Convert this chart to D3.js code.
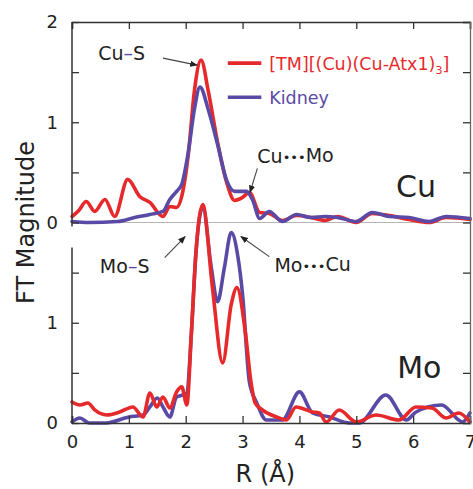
<!DOCTYPE html>
<html>
<head>
<meta charset="utf-8">
<script src="https://cdn.jsdelivr.net/npm/d3@7"></script>
<style>
  body { margin: 0; background: #fff; }
  svg text { font-family: "DejaVu Sans", sans-serif; fill: #222; }
</style>
</head>
<body>
<div id="chart"></div>
<script>
// Cu K-edge FT magnitude (upper panel, offset by 2 on the shared axis)
var cuTmR = [0, 0.12, 0.25, 0.4, 0.58, 0.75, 0.98, 1.19, 1.37, 1.6, 1.72, 1.84, 1.93, 2.05, 2.15, 2.27, 2.4, 2.56, 2.72, 2.86, 3.0, 3.12, 3.3, 3.47, 3.7, 3.95, 4.2, 4.45, 4.67, 5.0, 5.28, 5.58, 5.93, 6.28, 6.58, 7.0];
var cuTm = [0.06, 0.12, 0.21, 0.11, 0.23, 0.06, 0.43, 0.26, 0.2, 0.06, 0.16, 0.15, 0.26, 0.7, 1.3, 1.62, 1.3, 0.8, 0.4, 0.22, 0.25, 0.3, 0.1, 0.09, 0.02, 0.07, 0.05, 0.02, 0.06, 0.0, 0.09, 0.07, 0.03, 0.0, 0.05, 0.03];
var cuKidR = [0, 0.3, 0.8, 1.1, 1.37, 1.6, 1.72, 1.84, 1.93, 2.05, 2.15, 2.25, 2.4, 2.56, 2.72, 2.86, 3.07, 3.18, 3.3, 3.47, 3.7, 3.95, 4.2, 4.45, 4.67, 5.0, 5.28, 5.58, 5.93, 6.28, 6.58, 7.0];
var cuKid = [0.01, 0.0, 0.01, 0.05, 0.08, 0.11, 0.23, 0.31, 0.38, 0.72, 1.12, 1.35, 1.12, 0.78, 0.42, 0.31, 0.31, 0.22, 0.04, 0.11, 0.01, 0.08, 0.05, 0.06, 0.05, 0.01, 0.1, 0.06, 0.05, 0.01, 0.06, 0.04];

// Mo K-edge FT magnitude (lower panel)
var moTmR = [0, 0.14, 0.28, 0.4, 0.61, 0.84, 1.07, 1.25, 1.37, 1.49, 1.6, 1.72, 1.84, 1.93, 2.02, 2.1, 2.18, 2.3, 2.47, 2.65, 2.8, 2.9, 3.05, 3.15, 3.22, 3.35, 3.6, 3.77, 3.94, 4.23, 4.35, 4.47, 4.7, 5.0, 5.35, 5.75, 6.05, 6.33, 6.58, 6.8, 7.0];
var moTm = [0.21, 0.18, 0.2, 0.13, 0.08, 0.11, 0.16, 0.06, 0.3, 0.16, 0.26, 0.15, 0.31, 0.36, 0.18, 0.9, 1.7, 2.18, 1.35, 0.6, 1.18, 1.35, 0.9, 0.4, 0.2, 0.13, 0.06, 0.03, 0.16, 0.11, 0.1, 0.01, 0.13, 0.01, 0.08, 0.03, 0.16, 0.15, 0.05, 0.1, 0.01];
var moKidR = [0, 0.14, 0.3, 0.6, 1.0, 1.25, 1.37, 1.5, 1.6, 1.72, 1.84, 1.95, 2.02, 2.1, 2.18, 2.3, 2.45, 2.56, 2.68, 2.8, 2.92, 3.0, 3.12, 3.25, 3.42, 3.7, 4.0, 4.23, 4.53, 4.88, 5.05, 5.52, 5.88, 6.05, 6.5, 6.87, 7.0];
var moKid = [0.01, 0.05, 0.0, 0.0, 0.06, 0.08, 0.16, 0.25, 0.16, 0.06, 0.26, 0.28, 0.3, 0.9, 1.7, 2.15, 1.55, 1.21, 1.55, 1.9, 1.65, 1.28, 0.41, 0.2, 0.03, 0.03, 0.31, 0.1, 0.06, 0.0, 0.0, 0.28, 0.03, 0.11, 0.18, 0.01, 0.1];

var xTicks = [0, 1, 2, 3, 4, 5, 6, 7];
var yTicks = [0, 0.5, 1, 1.5, 2, 2.5, 3, 3.5, 4];
var yLabelTicks = [0, 1, 2, 3, 4];
var cuOffset = 2;

var legendNames = ["[TM][(Cu)(Cu-Atx1)", "Kidney"];
var red = "#e62a2c";
var blue = "#5a4aa6";

var width = 473, height = 489;
var margin = {top: 22, right: 2, bottom: 66, left: 72};

var svg = d3.select("#chart").append("svg")
    .attr("width", width)
    .attr("height", height);

var x = d3.scaleLinear().domain([0, 7]).range([margin.left, width - margin.right - 1]);
var y = d3.scaleLinear().domain([0, 4]).range([height - margin.bottom, margin.top]);

// grey zero line of the Cu panel
svg.append("line")
    .attr("x1", x(0)).attr("x2", x(7))
    .attr("y1", y(cuOffset)).attr("y2", y(cuOffset))
    .attr("stroke", "#b5b5b5").attr("stroke-width", 1);

// curves
var line = d3.line()
    .x(function(d) { return x(d[0]); })
    .y(function(d) { return y(d[1]); })
    .curve(d3.curveMonotoneX);

function series(rs, vs, off) {
    return rs.map(function(r, i) { return [r, vs[i] + off]; });
}

function drawCurve(data, color) {
    svg.append("path")
        .datum(data)
        .attr("d", line)
        .attr("fill", "none")
        .attr("stroke", color)
        .attr("stroke-width", 3.6)
        .attr("stroke-linejoin", "round")
        .attr("stroke-linecap", "round");
}

drawCurve(series(cuTmR, cuTm, cuOffset), red);
drawCurve(series(cuKidR, cuKid, cuOffset), blue);
drawCurve(series(moKidR, moKid, 0), blue);
drawCurve(series(moTmR, moTm, 0), red);

// axes
var axisColor = "#333";
var axBottom = svg.append("g")
    .attr("transform", `translate(0,${y(0)})`)
    .call(d3.axisBottom(x).tickValues(xTicks).tickSize(-7).tickPadding(12).tickFormat(d3.format("d")));
var axTop = svg.append("g")
    .attr("transform", `translate(0,${y(4)})`)
    .call(d3.axisTop(x).tickValues(xTicks).tickSize(-7).tickFormat(""));
var axLeft = svg.append("g")
    .attr("transform", `translate(${x(0)},0)`)
    .call(d3.axisLeft(y).tickValues(yTicks).tickSize(-7).tickPadding(14).tickFormat(function(d) {
        if (yLabelTicks.indexOf(d) < 0) return "";
        return d >= cuOffset ? d - cuOffset : d;
    }));
var axRight = svg.append("g")
    .attr("transform", `translate(${x(7)},0)`)
    .call(d3.axisRight(y).tickValues(yTicks).tickSize(-7).tickFormat(""));

[axBottom, axTop, axLeft, axRight].forEach(function(g) {
    g.selectAll("line").attr("stroke", axisColor).attr("stroke-width", 1.3);
    g.selectAll("text").attr("font-size", 18).attr("font-family", "DejaVu Sans").attr("fill", "#222");
});
axLeft.select(".domain").remove();
axRight.select(".domain").attr("stroke", "#666").attr("stroke-width", 1.3);
axTop.select(".domain").attr("stroke", axisColor).attr("stroke-width", 1.5);
axBottom.select(".domain").attr("stroke", axisColor).attr("stroke-width", 1.5);

// left spine, broken between the two panels
[[4, 1.96], [1.75, 0]].forEach(function(seg) {
    svg.append("line")
        .attr("x1", x(0)).attr("x2", x(0))
        .attr("y1", y(seg[0])).attr("y2", y(seg[1]))
        .attr("stroke", axisColor).attr("stroke-width", 1.5);
});

// axis titles
svg.append("text")
    .attr("transform", `translate(34,${y(2)}) rotate(-90)`)
    .attr("text-anchor", "middle")
    .attr("font-size", 24)
    .text("FT Magnitude");
svg.append("text")
    .attr("x", x(3.4)).attr("y", 482)
    .attr("text-anchor", "middle")
    .attr("font-size", 24)
    .text("R (Å)");

// legend
var legendY = [3.59, 3.25];
[red, blue].forEach(function(c, i) {
    svg.append("line")
        .attr("x1", x(2.74)).attr("x2", x(3.33))
        .attr("y1", y(legendY[i])).attr("y2", y(legendY[i]))
        .attr("stroke", c).attr("stroke-width", 3.6);
    var t = svg.append("text")
        .attr("x", x(3.47)).attr("y", y(legendY[i]) + 7)
        .attr("font-size", 17.5)
        .style("fill", c)
        .text(legendNames[i]);
    if (i === 0) {
        t.append("tspan").attr("font-size", 11).attr("dy", 4).text("3");
        t.append("tspan").attr("dy", -4).text("]");
    }
});

// annotations with arrows
svg.append("defs").append("marker")
    .attr("id", "arrow")
    .attr("viewBox", "0 0 10 10")
    .attr("refX", 9).attr("refY", 5)
    .attr("markerWidth", 7).attr("markerHeight", 7)
    .attr("orient", "auto")
    .append("path").attr("d", "M0,1 L10,5 L0,9 z").attr("fill", "#222");

var annotations = [
    {a: "Cu", b: "S", bond: true, tx: 0.46, ty: 3.62, from: [1.6, 3.64], to: [2.2, 3.57]},
    {a: "Cu", b: "Mo", bond: false, tx: 3.26, ty: 2.59, from: [3.26, 2.54], to: [3.13, 2.3]},
    {a: "Mo", b: "S", bond: true, tx: 0.49, ty: 1.5, from: [1.63, 1.65], to: [1.99, 1.86]},
    {a: "Mo", b: "Cu", bond: false, tx: 3.56, ty: 1.51, from: [3.47, 1.66], to: [2.97, 1.86]}
];
annotations.forEach(function(an) {
    svg.append("line")
        .attr("x1", x(an.from[0])).attr("y1", y(an.from[1]))
        .attr("x2", x(an.to[0])).attr("y2", y(an.to[1]))
        .attr("stroke", "#444").attr("stroke-width", 1.1)
        .attr("marker-end", "url(#arrow)");
    var t = svg.append("text")
        .attr("x", x(an.tx)).attr("y", y(an.ty))
        .attr("font-size", 19);
    t.append("tspan").text(an.a);
    if (an.bond) {
        t.append("tspan").style("fill", blue).text("–");
    } else {
        t.append("tspan").attr("font-size", 13).attr("dy", -1).text("•••");
        t.append("tspan").attr("dy", 1);
    }
    t.append("tspan").text(an.b);
});

// panel labels
svg.append("text").attr("x", x(5.7)).attr("y", y(2.25)).attr("font-size", 30).text("Cu");
svg.append("text").attr("x", x(5.72)).attr("y", y(0.45)).attr("font-size", 30).text("Mo");
</script>
</body>
</html>
